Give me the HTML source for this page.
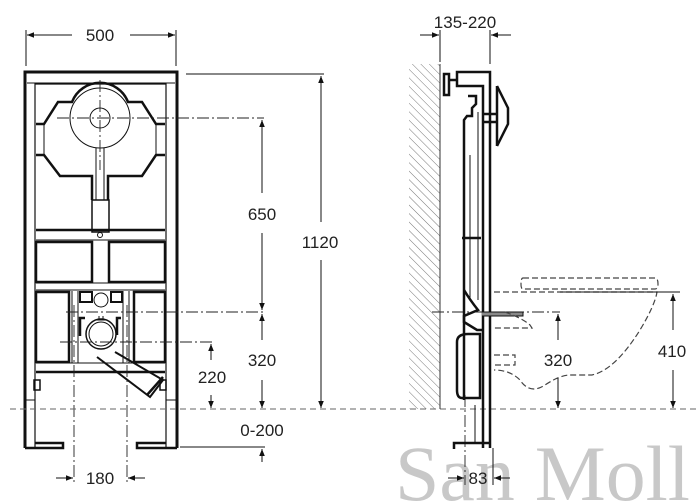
<!DOCTYPE html>
<html><head><meta charset="utf-8"><style>
html,body{margin:0;padding:0;background:#fff;width:697px;height:503px;overflow:hidden}
svg{display:block}
text{font-family:"Liberation Sans",sans-serif;font-size:17px;fill:#222}
</style></head><body>
<svg width="697" height="503" viewBox="0 0 697 503" xmlns="http://www.w3.org/2000/svg">
<defs>
<marker id="a" viewBox="0 0 10 10" refX="10" refY="5" markerWidth="9" markerHeight="7" orient="auto-start-reverse" markerUnits="userSpaceOnUse"><path d="M0,1 L10,5 L0,9 z" fill="#111"/></marker>
<pattern id="h" width="6" height="6" patternUnits="userSpaceOnUse" patternTransform="rotate(-45)"><line x1="0" y1="0" x2="0" y2="6" stroke="#555" stroke-width="0.8"/></pattern>
</defs>
<!-- watermark -->
<text x="395" y="500" textLength="295" lengthAdjust="spacingAndGlyphs" style="font-family:'Liberation Serif',serif;font-size:78px;fill:#c8c8c8">San Moll</text>

<g fill="none" stroke="#111" stroke-width="1">
<line x1="26" y1="30" x2="26" y2="66"/><line x1="176" y1="30" x2="176" y2="66"/>
<line x1="27" y1="35" x2="72" y2="35" marker-start="url(#a)"/>
<line x1="130" y1="35" x2="175" y2="35" marker-end="url(#a)"/>
<path d="M25,448 V72 H177 V448" stroke-width="3"/>
<path d="M35,448 V84 H166 V448" stroke-width="1.2"/>
<line x1="27" y1="83" x2="175" y2="83"/>
<path d="M25,448 H63 V443 H35" stroke-width="2.5"/>
<path d="M177,448 H137 V443 H166" stroke-width="2.5"/>
<line x1="25" y1="400" x2="35" y2="400"/><line x1="166" y1="400" x2="177" y2="400"/>
<path d="M36,124 H44 L58,102 H72 A30,30 0 0 1 128,102 H142 L156,124 H165" stroke-width="2.5"/>
<path d="M36,155 H44 L60,176 H92 V200" stroke-width="2.5"/>
<path d="M165,155 H156 L142,176 H108 V200" stroke-width="2.5"/>
<circle cx="100" cy="118" r="30"/>
<circle cx="100" cy="118" r="10"/>
<line x1="96" y1="148" x2="96" y2="200"/><line x1="104" y1="148" x2="104" y2="200"/>
<rect x="92" y="200" width="17" height="32" stroke-width="1.5"/>
<line x1="44" y1="124" x2="44" y2="155"/><line x1="156" y1="124" x2="156" y2="155"/>
<line x1="36" y1="230" x2="165" y2="230" stroke-width="2.5"/>
<line x1="36" y1="240" x2="165" y2="240"/>
<circle cx="100" cy="235" r="2.5"/>
<rect x="36" y="242" width="56" height="40" stroke-width="2.5"/>
<rect x="109" y="242" width="56" height="40" stroke-width="2.5"/>
<line x1="36" y1="283" x2="165" y2="283" stroke-width="1"/>
<line x1="36" y1="290" x2="165" y2="290"/>
<rect x="36" y="292" width="33" height="70" stroke-width="2.5"/>
<rect x="134" y="292" width="31" height="70" stroke-width="2.5"/>
<line x1="36" y1="363" x2="165" y2="363"/>
<line x1="36" y1="372" x2="165" y2="372" stroke-width="2.5"/>
<line x1="72" y1="291" x2="72" y2="363"/><line x1="78" y1="291" x2="78" y2="363"/>
<line x1="123" y1="291" x2="123" y2="363"/><line x1="129" y1="291" x2="129" y2="363"/>
<rect x="80" y="292" width="12" height="10" stroke-width="2"/>
<rect x="111" y="292" width="11" height="10" stroke-width="2"/>
<circle cx="101" cy="300" r="7"/>
<path d="M80,336 V318 H85 M121,318 H117 V335" stroke-width="2.5"/>
<circle cx="101" cy="334" r="15" stroke-width="1.5"/>
<circle cx="101" cy="334" r="12"/>
<path d="M95,320 H107 M99,316 V320 M103,316 V320"/>
<path d="M97,357 L150,397 L163,380 L115,352" stroke-width="2"/>
<path d="M147,395 L163,377" stroke-width="2.5"/>
<rect x="34" y="380" width="6" height="10" stroke-width="1.5"/>
<rect x="160" y="380" width="6" height="10" stroke-width="1.5"/>
</g>
<g fill="none" stroke="#222" stroke-width="0.9" stroke-dasharray="12,3,2,3">
<line x1="57" y1="118" x2="264" y2="118"/>
<line x1="100" y1="80" x2="100" y2="170"/>
<line x1="66" y1="312" x2="264" y2="312"/>
<line x1="60" y1="342" x2="213" y2="342"/>
<line x1="74" y1="305" x2="74" y2="485"/>
<line x1="127" y1="305" x2="127" y2="485"/>
<line x1="465" y1="395" x2="465" y2="485"/>
<line x1="432" y1="312" x2="560" y2="312"/>
</g>
<g fill="none" stroke="#111" stroke-width="1">
<line x1="186" y1="74" x2="324" y2="74"/>
<line x1="321" y1="222" x2="321" y2="76" marker-end="url(#a)"/>
<line x1="321" y1="260" x2="321" y2="408" marker-end="url(#a)"/>
<line x1="262" y1="193" x2="262" y2="120" marker-end="url(#a)"/>
<line x1="262" y1="233" x2="262" y2="310" marker-end="url(#a)"/>
<line x1="262" y1="340" x2="262" y2="314" marker-end="url(#a)"/>
<line x1="262" y1="380" x2="262" y2="408" marker-end="url(#a)"/>
<line x1="211" y1="360" x2="211" y2="344" marker-end="url(#a)"/>
<line x1="211" y1="395" x2="211" y2="408" marker-end="url(#a)"/>
<line x1="180" y1="447" x2="265" y2="447"/>
<line x1="262" y1="462" x2="262" y2="449" marker-end="url(#a)"/>
<line x1="56" y1="478" x2="73" y2="478" marker-end="url(#a)"/>
<line x1="145" y1="478" x2="128" y2="478" marker-end="url(#a)"/>
<line x1="493" y1="448" x2="493" y2="485"/>
<line x1="448" y1="478" x2="464" y2="478" marker-end="url(#a)"/>
<line x1="510" y1="478" x2="494" y2="478" marker-end="url(#a)"/>
<line x1="440" y1="30" x2="440" y2="62"/><line x1="490" y1="30" x2="490" y2="64"/>
<line x1="420" y1="35" x2="439" y2="35" marker-end="url(#a)"/>
<line x1="511" y1="35" x2="491" y2="35" marker-end="url(#a)"/>
</g>
<line x1="10" y1="409" x2="697" y2="409" stroke="#666" stroke-width="1" stroke-dasharray="6,4"/>

<rect x="409" y="64" width="31" height="345" fill="url(#h)"/>
<line x1="440" y1="64" x2="440" y2="409" stroke="#333"/>
<g fill="none" stroke="#111" stroke-width="2.5">
<path d="M490,448 V72 H457 V86 H483 V448"/>
<path d="M444,74 H449 V95 H444 Z"/>
<line x1="449" y1="80" x2="457" y2="80"/>
<path d="M497,86 L508,108 L508,124 L497,146" />
<path d="M497,86 V146"/>
<path d="M483,114 H497 M483,122 H497"/>
<path d="M468,96 H476 V104 L472,108 V116 H467 L464,120 V155 M464,155 V400 M462,238 H481"/>
<path d="M478,112 V300 M470,155 V300" stroke-width="1"/>
<path d="M464,290 Q470,300 478,310 L464,316 V322 L477,330 H483"/>
<path d="M468,334 H480 V398 H462 Q457,398 457,390 V342 Q457,334 468,334 Z"/>
<path d="M454,449 V443 H490"/>
<path d="M475,405 V443 M483,405 V443" stroke-width="1"/>
</g>
<path d="M482,312 H523 V316 H482" fill="#888" stroke="#111" stroke-width="1"/>
<g fill="none" stroke="#444" stroke-width="1.2" stroke-dasharray="6,3">
<path d="M523,278 H655 Q658,278 658,284 Q658,289 655,289 H523 Q521,289 521,284 Q521,278 523,278"/>
<path d="M494,292 H657 Q655,305 640,330 Q615,370 592,375 H570 Q560,375 545,385 Q530,395 520,380 Q510,370 494,370"/>
<path d="M505,312 Q522,318 530,325 L532,328 H494"/>
<path d="M494,355 H515 V365 H494"/>
</g>
<g fill="none" stroke="#111" stroke-width="1">
<line x1="560" y1="292" x2="680" y2="292"/>
<line x1="673" y1="330" x2="673" y2="294" marker-end="url(#a)"/>
<line x1="673" y1="370" x2="673" y2="408" marker-end="url(#a)"/>
<line x1="558" y1="340" x2="558" y2="314" marker-end="url(#a)"/>
<line x1="558" y1="378" x2="558" y2="408" marker-end="url(#a)"/>
</g>

<text x="100" y="41" text-anchor="middle">500</text>
<text x="262" y="220" text-anchor="middle">650</text>
<text x="320" y="248" text-anchor="middle">1120</text>
<text x="262" y="366" text-anchor="middle">320</text>
<text x="212" y="383" text-anchor="middle">220</text>
<text x="262" y="436" text-anchor="middle">0-200</text>
<text x="100" y="484" text-anchor="middle">180</text>
<text x="465" y="28" text-anchor="middle">135-220</text>
<text x="558" y="366" text-anchor="middle">320</text>
<text x="672" y="357" text-anchor="middle">410</text>
<text x="478" y="484" text-anchor="middle">83</text>
</svg>
</body></html>
